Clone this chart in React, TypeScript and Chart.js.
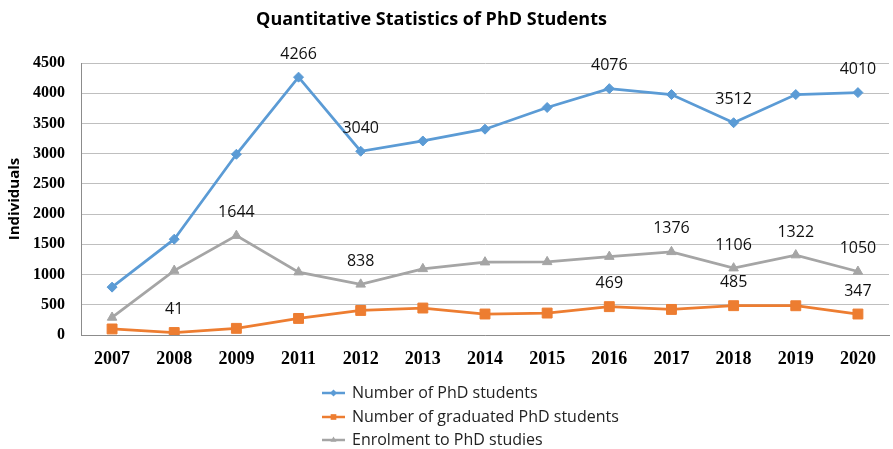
import React, { useEffect, useRef } from 'react';
import { Chart, registerables } from 'chart.js';

Chart.register(...registerables);

const titleText = 'Quantitative Statistics of PhD Students';
const yAxisTitle = 'Individuals';
const years = ['2007', '2008', '2009', '2011', '2012', '2013', '2014', '2015', '2016', '2017', '2018', '2019', '2020'];
const seriesNames = ['Number of PhD students', 'Number of graduated PhD students', 'Enrolment to PhD studies'];
const phdStudents = [792, 1585, 2990, 4266, 3040, 3210, 3405, 3764, 4076, 3978, 3512, 3978, 4010];
const graduated = [100, 41, 110, 274, 406, 446, 347, 363, 469, 423, 485, 484, 347];
const enrolment = [290, 1066, 1644, 1040, 838, 1094, 1205, 1210, 1297, 1376, 1106, 1322, 1050];
const phdLabelYears = ['2011', '2012', '2016', '2018', '2020'];
const gradLabelYears = ['2008', '2016', '2018', '2020'];
const enrolLabelYears = ['2009', '2012', '2017', '2018', '2019', '2020'];
const yMin = 0;
const yMax = 4500;
const yStep = 500;

const colors = ['#5B9BD5', '#ED7D31', '#A5A5A5'];
const pointStyles = ['rectRot', 'rect', 'triangle'];
const pointRadii = [5, 7, 5.5];

function drawMarker(ctx: CanvasRenderingContext2D, style: string, x: number, y: number, r: number) {
  ctx.beginPath();
  if (style === 'rectRot') {
    ctx.moveTo(x - r, y);
    ctx.lineTo(x, y - r);
    ctx.lineTo(x + r, y);
    ctx.lineTo(x, y + r);
    ctx.closePath();
  } else if (style === 'rect') {
    const s = r * Math.SQRT1_2;
    ctx.rect(x - s, y - s, 2 * s, 2 * s);
  } else {
    const h = r * 1.5;
    ctx.moveTo(x, y - r);
    ctx.lineTo(x + r * 0.866, y + r / 2);
    ctx.lineTo(x - r * 0.866, y + r / 2);
    ctx.closePath();
    void h;
  }
  ctx.fill();
}

const overlayPlugin = {
  id: 'overlayPlugin',
  afterDraw(chart: any) {
    const ctx = chart.ctx;
    ctx.save();
    // Title
    ctx.fillStyle = '#000';
    ctx.font = 'bold 18px "Open Sans"';
    ctx.textAlign = 'center';
    ctx.textBaseline = 'middle';
    ctx.fillText(titleText, 431.5, 20);

    // Data labels
    const labelSets = [phdLabelYears, gradLabelYears, enrolLabelYears];
    ctx.font = '16px "Open Sans"';
    ctx.fillStyle = '#111';
    chart.data.datasets.forEach((ds: any, i: number) => {
      const meta = chart.getDatasetMeta(i);
      years.forEach((yr, j) => {
        if (labelSets[i].includes(yr)) {
          const pt = meta.data[j];
          ctx.fillText(String(ds.data[j]), pt.x, pt.y - 23);
        }
      });
    });

    // Legend
    const rowsY = [393, 417, 440];
    chart.data.datasets.forEach((ds: any, i: number) => {
      const y = rowsY[i];
      ctx.strokeStyle = colors[i];
      ctx.lineWidth = 2.5;
      ctx.beginPath();
      ctx.moveTo(322, y);
      ctx.lineTo(345, y);
      ctx.stroke();
      ctx.fillStyle = colors[i];
      drawMarker(ctx, pointStyles[i], 333.5, y, i === 1 ? 4 : 3.5);
      ctx.fillStyle = '#222';
      ctx.font = '16px "Open Sans"';
      ctx.textAlign = 'left';
      ctx.textBaseline = 'middle';
      ctx.fillText(seriesNames[i], 352, y);
    });
    ctx.restore();
  },
};

export default function App() {
  const canvasRef = useRef<HTMLCanvasElement | null>(null);

  useEffect(() => {
    if (!canvasRef.current) return;
    const seriesData = [phdStudents, graduated, enrolment];
    const chart = new Chart(canvasRef.current, {
      type: 'line',
      data: {
        labels: years,
        datasets: seriesData.map((d, i) => ({
          label: seriesNames[i],
          data: d,
          borderColor: colors[i],
          backgroundColor: colors[i],
          borderWidth: 2.75,
          pointStyle: pointStyles[i] as any,
          pointRadius: pointRadii[i],
          pointBackgroundColor: colors[i],
          pointBorderColor: colors[i],
          pointBorderWidth: 1,
          tension: 0,
          fill: false,
        })),
      },
      options: {
        responsive: false,
        animation: false,
        layout: { padding: { top: 63, left: 0, right: 0, bottom: 0 } },
        plugins: {
          legend: { display: false },
          title: { display: false },
          tooltip: { enabled: false },
        },
        scales: {
          x: {
            offset: true,
            grid: { display: false, drawTicks: false },
            border: { display: true, color: '#8C8C8C', width: 1 },
            ticks: {
              color: '#000',
              font: { family: '"Liberation Serif"', size: 18, weight: 'bold' },
              padding: 14,
              maxRotation: 0,
              autoSkip: false,
            },
            afterFit(scale: any) {
              scale.height = 114;
            },
          },
          y: {
            min: yMin,
            max: yMax,
            grid: { color: '#BFBFBF', drawTicks: false, lineWidth: 1 },
            border: { display: true, color: '#8C8C8C', width: 1 },
            ticks: {
              stepSize: yStep,
              color: '#000',
              font: { family: '"Liberation Serif"', size: 16, weight: 'bold' },
              padding: 16,
              callback: (v: any) => String(v),
            },
            title: {
              display: true,
              text: yAxisTitle,
              color: '#000',
              font: { family: '"Open Sans"', size: 15, weight: 'bold' },
              padding: { top: 6, bottom: 0 },
            },
            afterFit(scale: any) {
              scale.width = 81;
            },
          },
        },
      },
      plugins: [overlayPlugin],
    });
    return () => chart.destroy();
  }, []);

  return (
    <div style={{ position: 'fixed', left: 0, top: 0, width: 893, height: 449, overflow: 'hidden', background: '#fff' }}>
      <canvas ref={canvasRef} width={897} height={449} style={{ display: 'block' }} />
    </div>
  );
}
